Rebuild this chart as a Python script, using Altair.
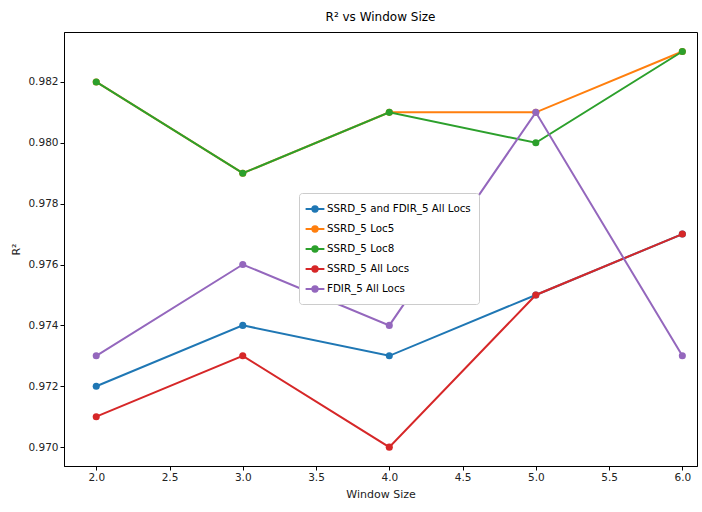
import altair as alt
import pandas as pd

window = [2, 3, 4, 5, 6]
series_names = ["SSRD_5 and FDIR_5 All Locs", "SSRD_5 Loc5", "SSRD_5 Loc8", "SSRD_5 All Locs", "FDIR_5 All Locs"]
s_both = [0.972, 0.974, 0.973, 0.975, 0.977]
s_loc5 = [0.982, 0.979, 0.981, 0.981, 0.983]
s_loc8 = [0.982, 0.979, 0.981, 0.980, 0.983]
s_ssrd_all = [0.971, 0.973, 0.970, 0.975, 0.977]
s_fdir_all = [0.973, 0.976, 0.974, 0.981, 0.973]
colors = ["#1f77b4", "#ff7f0e", "#2ca02c", "#d62728", "#9467bd"]

rows = []
for i, (name, vals) in enumerate(zip(series_names, [s_both, s_loc5, s_loc8, s_ssrd_all, s_fdir_all])):
    for w, v in zip(window, vals):
        rows.append({"Window Size": w, "R2": v, "Series": name, "order": i})
df = pd.DataFrame(rows)

FONT = "DejaVu Sans"
x = alt.X("Window Size:Q", scale=alt.Scale(domain=[1.78, 6.1], nice=False, zero=False),
          axis=alt.Axis(values=[2.0, 2.5, 3.0, 3.5, 4.0, 4.5, 5.0, 5.5, 6.0], format=".1f",
                        title="Window Size", grid=False))
y = alt.Y("R2:Q", scale=alt.Scale(domain=[0.96938, 0.98364], nice=False, zero=False),
          axis=alt.Axis(values=[0.970, 0.972, 0.974, 0.976, 0.978, 0.980, 0.982], format=".3f",
                        title="R²", grid=False))
color = alt.Color("Series:N", sort=series_names,
                  scale=alt.Scale(domain=series_names, range=colors),
                  legend=alt.Legend(title=None, orient="none", legendX=235, legendY=161,
                                    symbolType="M-1.4,0L1.4,0M-0.4,0a0.4,0.4 0 1,0 0.8,0a0.4,0.4 0 1,0 -0.8,0",
                                    symbolSize=180, symbolStrokeWidth=2,
                                    labelFontSize=10.3, labelFont=FONT, rowPadding=5,
                                    padding=8, fillColor="white", strokeColor="#cccccc",
                                    cornerRadius=3))

layers = []
for i, name in enumerate(series_names):
    sub = alt.Chart(df).transform_filter(alt.datum.Series == name)
    layers.append(sub.mark_line(strokeWidth=2).encode(x=x, y=y, color=color))
    layers.append(sub.mark_circle(size=50, opacity=1).encode(x=x, y=y, color=color))

chart = alt.layer(*layers).properties(
    width=633, height=434,
    title=alt.TitleParams("R² vs Window Size", font=FONT, fontSize=12, fontWeight="normal",
                          anchor="middle", offset=8),
    autosize=alt.AutoSizeParams(type="none"),
    padding={"left": 64, "top": 32, "right": 5, "bottom": 46},
).configure_view(stroke="black", strokeWidth=1
).configure_axis(labelFont=FONT, titleFont=FONT, labelFontSize=10.5, titleFontSize=11,
                 titleFontWeight="normal", tickColor="black", domainColor="black",
                 labelColor="#222222", titleColor="#222222", tickSize=4
).configure_axisY(titlePadding=6).configure_axisX(titlePadding=6)

chart.save("out.html", embed_options={"renderer": "svg", "actions": False})
